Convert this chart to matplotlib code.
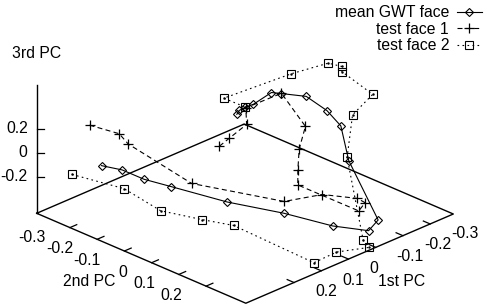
import numpy as np
import matplotlib
matplotlib.use('Agg')
import matplotlib.pyplot as plt
from mpl_toolkits.mplot3d import proj3d

plt.rcParams['font.family'] = ['Liberation Sans', 'DejaVu Sans']
plt.rcParams['lines.scale_dashes'] = False

# ---------------- data (1st PC, 2nd PC, 3rd PC) ----------------
mean_pc1 = [0.258, 0.220, 0.205, 0.197, 0.178, 0.080, -0.027, -0.116, -0.165, -0.193,
            -0.196, -0.216, -0.227, -0.210, -0.203, -0.162, -0.148, -0.127, -0.112]
mean_pc2 = [-0.303, -0.265, -0.200, -0.107, 0.078, 0.189, 0.261, 0.304, 0.290, 0.154,
            0.122, 0.051, -0.036, -0.111, -0.140, -0.165, -0.181, -0.182, -0.176]
mean_pc3 = [-0.104, -0.140, -0.169, -0.148, -0.113, -0.195, -0.336, -0.421, -0.393, -0.056,
            0.201, 0.240, 0.263, 0.230, 0.217, 0.134, 0.107, 0.100, 0.088]

face1_pc1 = [0.280, 0.226, 0.209, 0.170, 0.054, -0.066, -0.154, -0.166, -0.131, -0.020,
             -0.050, -0.106, -0.162, -0.211, -0.147, -0.113, -0.023, 0.030]
face1_pc2 = [-0.325, -0.270, -0.254, -0.060, 0.164, 0.184, 0.225, 0.241, 0.253, 0.140,
             0.110, 0.059, 0.026, -0.111, -0.178, -0.141, -0.115, -0.099]
face1_pc3 = [0.236, 0.165, 0.078, -0.101, -0.146, -0.186, -0.265, -0.297, -0.320, -0.104,
             -0.041, 0.034, 0.136, 0.231, 0.106, 0.037, 0.034, 0.034]

face2_pc1 = [0.312, 0.244, 0.258, 0.239, 0.222, 0.103, 0.018, -0.080, -0.081, -0.190,
             -0.230, -0.292, -0.311, -0.323, -0.318, -0.262, -0.110, -0.149]
face2_pc2 = [-0.357, -0.234, -0.086, 0.046, 0.146, 0.322, 0.320, 0.340, 0.319, 0.151,
             0.131, 0.143, 0.011, -0.002, -0.046, -0.126, -0.222, -0.182]
face2_pc3 = [-0.178, -0.243, -0.269, -0.232, -0.200, -0.457, -0.453, -0.491, -0.452, -0.029,
             0.269, 0.392, 0.435, 0.453, 0.443, 0.330, 0.180, 0.107]

series_labels = ['mean GWT face', 'test face 1', 'test face 2']

pc1_ticks = [-0.3, -0.2, -0.1, 0.0, 0.1, 0.2]
pc1_ticklabels = ['-0.3', '-0.2', '-0.1', '0', '0.1', '0.2']
pc2_ticks = [-0.3, -0.2, -0.1, 0.0, 0.1, 0.2]
pc2_ticklabels = ['-0.3', '-0.2', '-0.1', '0', '0.1', '0.2']
pc3_ticks = [-0.2, 0.0, 0.2]
pc3_ticklabels = ['-0.2', '0', '0.2']

# axis ranges
X_MIN, X_MAX = -0.385, 0.377     # 1st PC
Y_MIN, Y_MAX = -0.422, 0.346     # 2nd PC
Z_BASE, Z_TOP = -0.504, 0.574    # 3rd PC

FS = 11.3
W, H = 487, 307
fig = plt.figure(figsize=(W / 100, H / 100), dpi=100)
ax = fig.add_axes([0, 0, 1, 1], projection='3d', proj_type='ortho',
                  computed_zorder=False)
ax.view_init(elev=25.47, azim=45)
ax.set_xlim(X_MIN, X_MAX)
ax.set_ylim(Y_MIN, Y_MAX)
ax.set_zlim(Z_BASE, Z_TOP)
ax.set_box_aspect((X_MAX - X_MIN, Y_MAX - Y_MIN, (Z_TOP - Z_BASE) * 0.3427))
ax.set_axis_off()

k = dict(color='k', clip_on=False)
# base plane
ax.plot([X_MAX, X_MIN, X_MIN, X_MAX, X_MAX], [Y_MIN, Y_MIN, Y_MAX, Y_MAX, Y_MIN],
        [Z_BASE] * 5, lw=1.0, **k)
# vertical axis
ax.plot([X_MAX, X_MAX], [Y_MIN, Y_MIN], [Z_BASE, Z_TOP], lw=1.0, **k)
TL = 0.025
for t in pc2_ticks:
    ax.plot([X_MAX, X_MAX - TL], [t, t], [Z_BASE, Z_BASE], lw=0.9, **k)
for t in pc1_ticks:
    ax.plot([t, t], [Y_MAX, Y_MAX - TL], [Z_BASE, Z_BASE], lw=0.9, **k)
for t in pc3_ticks:
    ax.plot([X_MAX, X_MAX - 0.013], [Y_MIN, Y_MIN + 0.013], [t, t], lw=0.9, **k)

# data series
l1, = ax.plot(mean_pc1, mean_pc2, mean_pc3, lw=0.8, marker='D', ms=4.3,
              mfc='none', mew=0.8, label=series_labels[0], **k)
l2, = ax.plot(face1_pc1, face1_pc2, face1_pc3, lw=0.8, marker='+', ms=6.5,
              mew=0.9, dashes=(3.6, 2.4), label=series_labels[1], **k)
l3, = ax.plot(face2_pc1, face2_pc2, face2_pc3, lw=0.8, marker='s', ms=5.8,
              mfc='none', mew=0.8, dashes=(1.2, 2.4), label=series_labels[2], **k)
ax.plot(face2_pc1, face2_pc2, face2_pc3, ls='none', marker='.', ms=1.5, **k)

# ---- place the projected box at the reference location ----
fig.canvas.draw()


def to_px(x, y, z):
    xs, ys, _ = proj3d.proj_transform(np.atleast_1d(np.asarray(x, float)),
                                      np.atleast_1d(np.asarray(y, float)),
                                      np.atleast_1d(np.asarray(z, float)), ax.M)
    return ax.transData.transform(np.column_stack([xs, ys]))


pL = to_px(X_MAX, Y_MIN, Z_BASE)[0]
pR = to_px(X_MIN, Y_MAX, Z_BASE)[0]
tL = np.array([36.7, H - 213.3])
tR = np.array([453.3, H - 213.3])
s = (tR[0] - tL[0]) / (pR[0] - pL[0])
bb = ax.get_position()
x0, y0, w, h = bb.x0 * W, bb.y0 * H, bb.width * W, bb.height * H
nx0 = tL[0] - s * (pL[0] - x0)
ny0 = tL[1] - s * (pL[1] - y0)
ax.set_position([nx0 / W, ny0 / H, s * w / W, s * h / H])
fig.canvas.draw()


def label_at(x, y, z, dx, dy, txt, ha, va='center'):
    p = to_px(x, y, z)[0]
    fig.text((p[0] + dx) / W, (p[1] + dy) / H, txt, ha=ha, va=va, fontsize=FS)


for t, lab in zip(pc2_ticks, pc2_ticklabels):
    label_at(X_MAX, t, Z_BASE, -24, -9.5, lab, 'right')
for t, lab in zip(pc1_ticks, pc1_ticklabels):
    label_at(t, Y_MAX, Z_BASE, 21, -9.3, lab, 'left')
for t, lab in zip(pc3_ticks, pc3_ticklabels):
    label_at(X_MAX, Y_MIN, t, -9, 1, lab, 'right')

fig.text(37 / W, 1 - 53.3 / H, '3rd PC', ha='center', va='center', fontsize=FS)
fig.text(89.2 / W, 1 - 281 / H, '2nd PC', ha='center', va='center', fontsize=FS)
fig.text(401.5 / W, 1 - 281 / H, '1st PC', ha='center', va='center', fontsize=FS)

fig.legend(handles=[l1, l2, l3], loc='upper right', bbox_to_anchor=(482 / W, 1 - 5 / H),
           markerfirst=False, frameon=False, fontsize=FS, handlelength=1.6,
           handletextpad=0.5, labelspacing=0.1, borderpad=0, borderaxespad=0)

fig.savefig('out.png', dpi=100)
